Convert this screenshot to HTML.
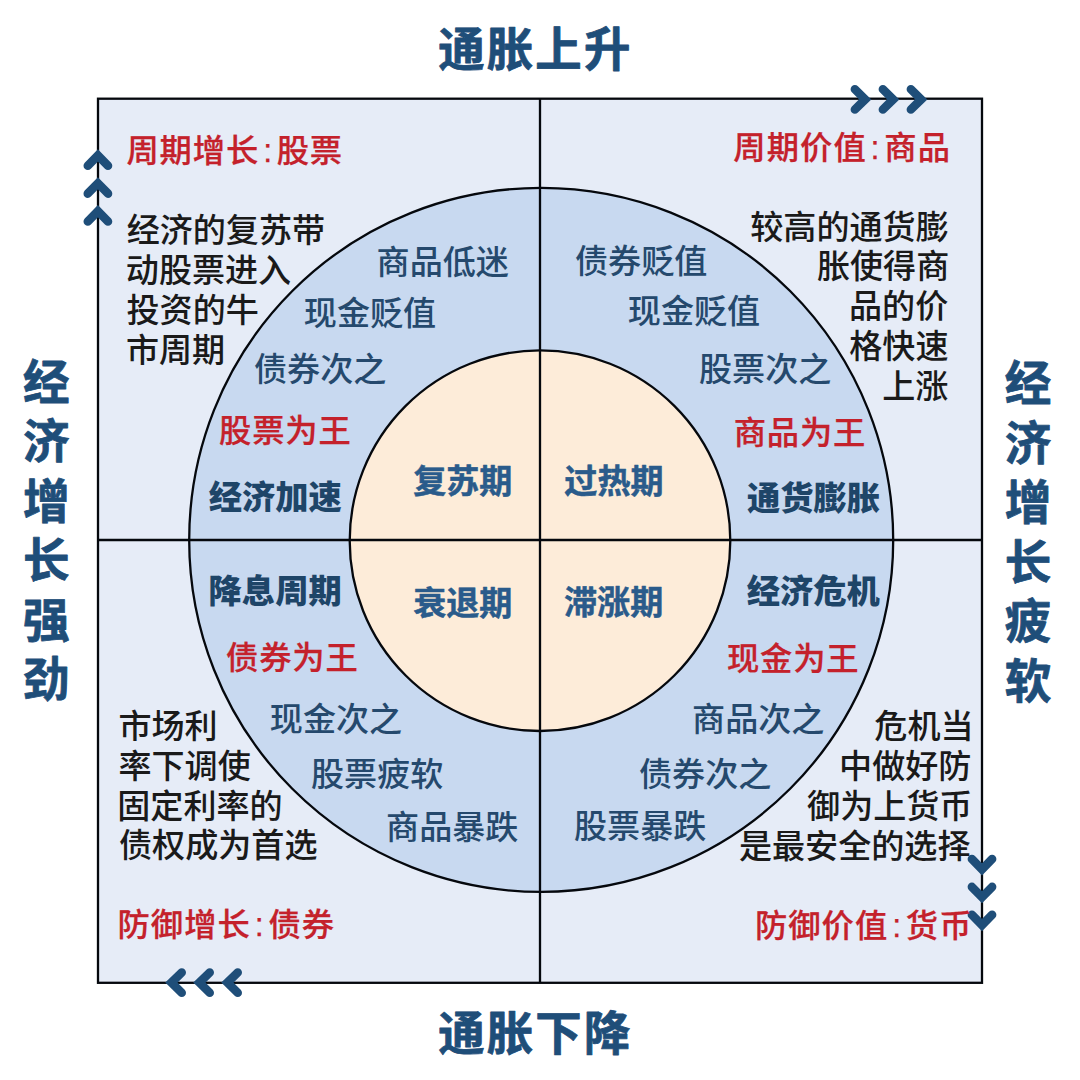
<!DOCTYPE html>
<html lang="zh-CN">
<head>
<meta charset="utf-8">
<title>Diagram</title>
<style>
html,body{margin:0;padding:0;background:#fff;}
body{width:1080px;height:1080px;overflow:hidden;font-family:"Liberation Sans","Noto Sans CJK SC",sans-serif;}
svg{display:block;}
svg text{font-family:"Liberation Sans","Noto Sans CJK SC",sans-serif;}
#stage{position:relative;width:1080px;height:1080px;}
.t{position:absolute;left:0;top:0;width:1080px;height:1080px;}
.t span{position:absolute;display:block;white-space:nowrap;line-height:1;color:transparent;font-family:"Liberation Sans","Noto Sans CJK SC",sans-serif;}
.t span.v{width:1em;white-space:normal;word-break:break-all;text-align:center;}
</style>
</head>
<body>
<div id="stage">
<svg width="1080" height="1080" viewBox="0 0 1080 1080">
<rect x="0" y="0" width="1080" height="1080" fill="#ffffff"/>
<rect x="98" y="98.7" width="884" height="884.1" fill="#e6ecf7" stroke="#05080d" stroke-width="2.3"/>
<circle cx="541.2" cy="539.9" r="352" fill="#c8d9f0" stroke="#05080d" stroke-width="2.3"/>
<circle cx="540" cy="540.7" r="190.3" fill="#fdecd9" stroke="#05080d" stroke-width="2.3"/>
<path d="M540 98.7V982.8M98 540H982" stroke="#05080d" stroke-width="2.3" fill="none"/>
<path transform="translate(97.9 149.6) rotate(0)" d="M-10.1 16.1 L0 5.8 L10.1 16.1" fill="none" stroke="#1f4e79" stroke-width="8.6" stroke-linecap="round" stroke-linejoin="miter" stroke-miterlimit="10"/>
<path transform="translate(97.9 177.5) rotate(0)" d="M-10.1 16.1 L0 5.8 L10.1 16.1" fill="none" stroke="#1f4e79" stroke-width="8.6" stroke-linecap="round" stroke-linejoin="miter" stroke-miterlimit="10"/>
<path transform="translate(97.9 205.4) rotate(0)" d="M-10.1 16.1 L0 5.8 L10.1 16.1" fill="none" stroke="#1f4e79" stroke-width="8.6" stroke-linecap="round" stroke-linejoin="miter" stroke-miterlimit="10"/>
<path transform="translate(871.0 99.4) rotate(90)" d="M-10.1 16.1 L0 5.8 L10.1 16.1" fill="none" stroke="#1f4e79" stroke-width="8.6" stroke-linecap="round" stroke-linejoin="miter" stroke-miterlimit="10"/>
<path transform="translate(899.0 99.4) rotate(90)" d="M-10.1 16.1 L0 5.8 L10.1 16.1" fill="none" stroke="#1f4e79" stroke-width="8.6" stroke-linecap="round" stroke-linejoin="miter" stroke-miterlimit="10"/>
<path transform="translate(927.0 99.4) rotate(90)" d="M-10.1 16.1 L0 5.8 L10.1 16.1" fill="none" stroke="#1f4e79" stroke-width="8.6" stroke-linecap="round" stroke-linejoin="miter" stroke-miterlimit="10"/>
<path transform="translate(165.6 982.6) rotate(270)" d="M-10.1 16.1 L0 5.8 L10.1 16.1" fill="none" stroke="#1f4e79" stroke-width="8.6" stroke-linecap="round" stroke-linejoin="miter" stroke-miterlimit="10"/>
<path transform="translate(193.6 982.6) rotate(270)" d="M-10.1 16.1 L0 5.8 L10.1 16.1" fill="none" stroke="#1f4e79" stroke-width="8.6" stroke-linecap="round" stroke-linejoin="miter" stroke-miterlimit="10"/>
<path transform="translate(221.6 982.6) rotate(270)" d="M-10.1 16.1 L0 5.8 L10.1 16.1" fill="none" stroke="#1f4e79" stroke-width="8.6" stroke-linecap="round" stroke-linejoin="miter" stroke-miterlimit="10"/>
<path transform="translate(982 875.2) rotate(180)" d="M-10.1 16.1 L0 5.8 L10.1 16.1" fill="none" stroke="#1f4e79" stroke-width="8.6" stroke-linecap="round" stroke-linejoin="miter" stroke-miterlimit="10"/>
<path transform="translate(982 903.0) rotate(180)" d="M-10.1 16.1 L0 5.8 L10.1 16.1" fill="none" stroke="#1f4e79" stroke-width="8.6" stroke-linecap="round" stroke-linejoin="miter" stroke-miterlimit="10"/>
<path transform="translate(982 930.9) rotate(180)" d="M-10.1 16.1 L0 5.8 L10.1 16.1" fill="none" stroke="#1f4e79" stroke-width="8.6" stroke-linecap="round" stroke-linejoin="miter" stroke-miterlimit="10"/>
<g fill="#1f4e79" stroke="#1f4e79" stroke-width="0.8" stroke-linejoin="round" font-weight="700">
<text x="438.14" y="65.51" font-size="46.4" letter-spacing="2.2">通胀上升</text>
<text x="438.14" y="1050.15" font-size="46.4" letter-spacing="2.2">通胀下降</text>
<text x="23.00" y="398.60" font-size="46.6">经</text>
<text x="23.00" y="458.10" font-size="46.6">济</text>
<text x="23.00" y="517.60" font-size="46.6">增</text>
<text x="23.00" y="577.10" font-size="46.6">长</text>
<text x="23.00" y="636.60" font-size="46.6">强</text>
<text x="23.00" y="696.10" font-size="46.6">劲</text>
<text x="1004.70" y="400.40" font-size="46.6">经</text>
<text x="1004.70" y="459.90" font-size="46.6">济</text>
<text x="1004.70" y="519.40" font-size="46.6">增</text>
<text x="1004.70" y="578.90" font-size="46.6">长</text>
<text x="1004.70" y="638.40" font-size="46.6">疲</text>
<text x="1004.70" y="697.90" font-size="46.6">软</text>
</g>
<g fill="#c4212b" stroke="#c4212b" stroke-width="0.25" stroke-linejoin="round" font-weight="500" font-size="32.3">
<text x="126.40" y="162.36" letter-spacing="0.92">周期增长<tspan x="263.13">:</tspan><tspan x="276.66">股票</tspan></text>
<text x="733.35" y="158.62" letter-spacing="1.05">周期价值<tspan x="870.59">:</tspan><tspan x="884.29">商品</tspan></text>
<text x="117.48" y="936.39" letter-spacing="1.05">防御增长<tspan x="254.72">:</tspan><tspan x="268.42">债券</tspan></text>
<text x="754.91" y="936.66" letter-spacing="1.05">防御价值<tspan x="892.15">:</tspan><tspan x="905.85">货币</tspan></text>
<text x="219.00" y="442.21" letter-spacing="0.85">股票为王</text>
<text x="733.63" y="444.35" letter-spacing="0.85">商品为王</text>
<text x="226.03" y="669.32" letter-spacing="0.85">债券为王</text>
<text x="726.90" y="670.39" letter-spacing="0.85">现金为王</text>
</g>
<g fill="#1a1a1a" font-weight="500" font-size="33.1">
<text x="126.64" y="242.11">经济的复苏带</text>
<text x="125.81" y="281.71">动股票进入</text>
<text x="126.51" y="321.88">投资的牛</text>
<text x="125.94" y="361.84">市周期</text>
<text x="750.26" y="238.61">较高的通货膨</text>
<text x="816.95" y="278.48">胀使得商</text>
<text x="849.03" y="318.28">品的价</text>
<text x="849.29" y="358.21">格快速</text>
<text x="882.16" y="397.96">上涨</text>
<text x="118.44" y="737.72">市场利</text>
<text x="118.41" y="777.58">率下调使</text>
<text x="117.25" y="817.58">固定利率的</text>
<text x="119.01" y="857.36">债权成为首选</text>
<text x="874.31" y="737.56">危机当</text>
<text x="839.09" y="777.54">中做好防</text>
<text x="807.05" y="817.58">御为上货币</text>
<text x="738.96" y="857.53">是最安全的选择</text>
</g>
<g fill="#25496d" font-weight="500" font-size="33.1">
<text x="376.58" y="273.58">商品低迷</text>
<text x="303.87" y="324.69">现金贬值</text>
<text x="254.01" y="380.61">债券次之</text>
<text x="575.01" y="272.63">债券贬值</text>
<text x="627.87" y="323.49">现金贬值</text>
<text x="698.97" y="380.61">股票次之</text>
<text x="269.87" y="730.64">现金次之</text>
<text x="310.97" y="785.69">股票疲软</text>
<text x="386.08" y="838.61">商品暴跌</text>
<text x="692.08" y="730.61">商品次之</text>
<text x="639.01" y="785.61">债券次之</text>
<text x="573.97" y="838.41">股票暴跌</text>
</g>
<g fill="#1e4568" font-weight="900" font-size="33.3">
<text x="208.70" y="508.75">经济加速</text>
<text x="746.93" y="509.92">通货膨胀</text>
<text x="208.57" y="602.77">降息周期</text>
<text x="746.70" y="602.75">经济危机</text>
</g>
<g fill="#2a5b8b" stroke="#2a5b8b" stroke-width="0.5" stroke-linejoin="round" font-weight="700" font-size="33.1">
<text x="413.21" y="492.74">复苏期</text>
<text x="564.34" y="492.73">过热期</text>
<text x="413.21" y="614.71">衰退期</text>
<text x="564.01" y="614.35">滞涨期</text>
</g>
</svg>
<div class="t">
<span style="left:438.1px;top:24.7px;font-size:46.4px;font-weight:700;letter-spacing:2.2px;">通胀上升</span>
<span style="left:438.1px;top:1009.3px;font-size:46.4px;font-weight:700;letter-spacing:2.2px;">通胀下降</span>
<span class="v" style="left:23.0px;top:351.1px;font-size:46.6px;line-height:59.5px;font-weight:700;">经济增长强劲</span>
<span class="v" style="left:1004.7px;top:352.9px;font-size:46.6px;line-height:59.5px;font-weight:700;">经济增长疲软</span>
<span style="left:126.4px;top:133.9px;font-size:32.3px;font-weight:500;letter-spacing:0.92px;">周期增长:股票</span>
<span style="left:733.4px;top:130.2px;font-size:32.3px;font-weight:500;letter-spacing:1.05px;">周期价值:商品</span>
<span style="left:117.5px;top:908.0px;font-size:32.3px;font-weight:500;letter-spacing:1.05px;">防御增长:债券</span>
<span style="left:754.9px;top:908.2px;font-size:32.3px;font-weight:500;letter-spacing:1.05px;">防御价值:货币</span>
<span style="left:126.6px;top:213.0px;font-size:33.1px;font-weight:500;">经济的复苏带</span>
<span style="left:125.8px;top:252.6px;font-size:33.1px;font-weight:500;">动股票进入</span>
<span style="left:126.5px;top:292.8px;font-size:33.1px;font-weight:500;">投资的牛</span>
<span style="left:125.9px;top:332.7px;font-size:33.1px;font-weight:500;">市周期</span>
<span style="left:750.3px;top:209.5px;font-size:33.1px;font-weight:500;">较高的通货膨</span>
<span style="left:817.0px;top:249.3px;font-size:33.1px;font-weight:500;">胀使得商</span>
<span style="left:849.0px;top:289.2px;font-size:33.1px;font-weight:500;">品的价</span>
<span style="left:849.3px;top:329.1px;font-size:33.1px;font-weight:500;">格快速</span>
<span style="left:882.2px;top:368.8px;font-size:33.1px;font-weight:500;">上涨</span>
<span style="left:118.4px;top:708.6px;font-size:33.1px;font-weight:500;">市场利</span>
<span style="left:118.4px;top:748.4px;font-size:33.1px;font-weight:500;">率下调使</span>
<span style="left:117.3px;top:788.4px;font-size:33.1px;font-weight:500;">固定利率的</span>
<span style="left:119.0px;top:828.2px;font-size:33.1px;font-weight:500;">债权成为首选</span>
<span style="left:874.3px;top:708.4px;font-size:33.1px;font-weight:500;">危机当</span>
<span style="left:839.1px;top:748.4px;font-size:33.1px;font-weight:500;">中做好防</span>
<span style="left:807.0px;top:788.4px;font-size:33.1px;font-weight:500;">御为上货币</span>
<span style="left:739.0px;top:828.4px;font-size:33.1px;font-weight:500;">是最安全的选择</span>
<span style="left:376.6px;top:244.4px;font-size:33.1px;font-weight:500;">商品低迷</span>
<span style="left:303.9px;top:295.6px;font-size:33.1px;font-weight:500;">现金贬值</span>
<span style="left:254.0px;top:351.5px;font-size:33.1px;font-weight:500;">债券次之</span>
<span style="left:219.0px;top:413.8px;font-size:32.3px;font-weight:500;letter-spacing:0.85px;">股票为王</span>
<span style="left:575.0px;top:243.5px;font-size:33.1px;font-weight:500;">债券贬值</span>
<span style="left:627.9px;top:294.4px;font-size:33.1px;font-weight:500;">现金贬值</span>
<span style="left:699.0px;top:351.5px;font-size:33.1px;font-weight:500;">股票次之</span>
<span style="left:733.6px;top:415.9px;font-size:32.3px;font-weight:500;letter-spacing:0.85px;">商品为王</span>
<span style="left:226.0px;top:640.9px;font-size:32.3px;font-weight:500;letter-spacing:0.85px;">债券为王</span>
<span style="left:269.9px;top:701.5px;font-size:33.1px;font-weight:500;">现金次之</span>
<span style="left:311.0px;top:756.6px;font-size:33.1px;font-weight:500;">股票疲软</span>
<span style="left:386.1px;top:809.5px;font-size:33.1px;font-weight:500;">商品暴跌</span>
<span style="left:726.9px;top:642.0px;font-size:32.3px;font-weight:500;letter-spacing:0.85px;">现金为王</span>
<span style="left:692.1px;top:701.5px;font-size:33.1px;font-weight:500;">商品次之</span>
<span style="left:639.0px;top:756.5px;font-size:33.1px;font-weight:500;">债券次之</span>
<span style="left:574.0px;top:809.3px;font-size:33.1px;font-weight:500;">股票暴跌</span>
<span style="left:208.7px;top:479.4px;font-size:33.3px;font-weight:900;">经济加速</span>
<span style="left:746.9px;top:480.6px;font-size:33.3px;font-weight:900;">通货膨胀</span>
<span style="left:208.6px;top:573.5px;font-size:33.3px;font-weight:900;">降息周期</span>
<span style="left:746.7px;top:573.4px;font-size:33.3px;font-weight:900;">经济危机</span>
<span style="left:413.2px;top:463.6px;font-size:33.1px;font-weight:700;">复苏期</span>
<span style="left:564.3px;top:463.6px;font-size:33.1px;font-weight:700;">过热期</span>
<span style="left:413.2px;top:585.6px;font-size:33.1px;font-weight:700;">衰退期</span>
<span style="left:564.0px;top:585.2px;font-size:33.1px;font-weight:700;">滞涨期</span>
</div>
</div>
</body>
</html>
